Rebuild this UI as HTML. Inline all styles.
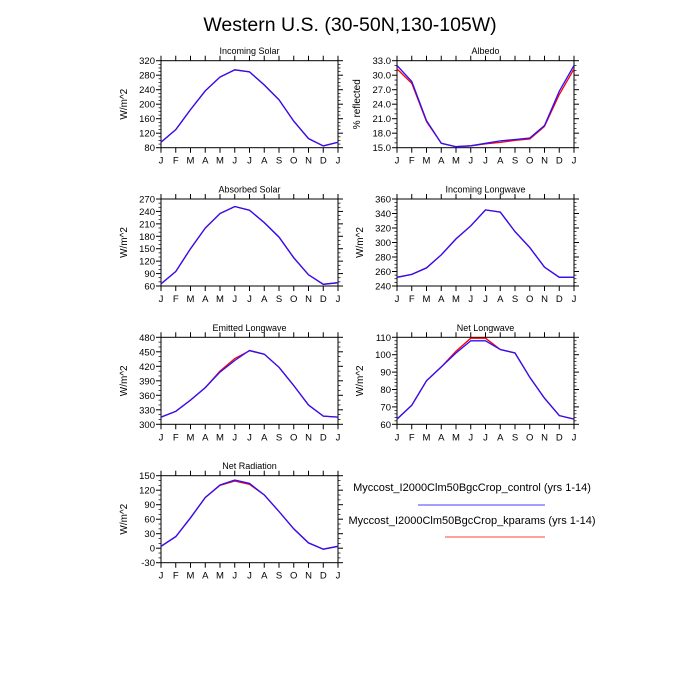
<!DOCTYPE html>
<html><head><meta charset="utf-8"><style>
html,body{margin:0;padding:0;background:#fff;}
svg{display:block;font-family:"Liberation Sans",sans-serif;}
</style></head><body>
<svg id="s" width="700" height="700" xmlns="http://www.w3.org/2000/svg">
<text x="350" y="31" font-size="19.5" text-anchor="middle">Western U.S. (30-50N,130-105W)</text>
<text x="472" y="491" font-size="11" text-anchor="middle">Myccost_I2000Clm50BgcCrop_control (yrs 1-14)</text>
<line x1="418" y1="505" x2="545" y2="505" stroke="#4040ff" stroke-width="1"/>
<text x="472" y="524" font-size="11" text-anchor="middle">Myccost_I2000Clm50BgcCrop_kparams (yrs 1-14)</text>
<line x1="445" y1="537" x2="545" y2="537" stroke="#ff4040" stroke-width="1"/>
</svg>
<script>
var S=document.getElementById('s');
var P=[
{t:"Incoming Solar",y:"W/m^2",x0:161,y0:60.7,lo:80,hi:320,st:40,mn:4,d:0,
b:[95,130,185,237,275,295,289,253,212,153,105,85,95],r:null},
{t:"Albedo",y:"% reflected",x0:397,y0:60.7,lo:15,hi:33,st:3,mn:3,d:1,
b:[32.0,28.7,20.6,15.9,15.2,15.4,15.9,16.4,16.7,17.0,19.6,26.7,32.0],
r:[31.3,28.3,20.4,15.9,15.2,15.4,15.8,16.1,16.5,16.8,19.4,26.0,31.3]},
{t:"Absorbed Solar",y:"W/m^2",x0:161,y0:199,lo:60,hi:270,st:30,mn:3,d:0,
b:[65,95,150,200,235,252,243,213,178,128,87,64,68],r:null},
{t:"Incoming Longwave",y:"W/m^2",x0:397,y0:199,lo:240,hi:360,st:20,mn:4,d:0,
b:[252,256,265,283,305,323,345,342,315,293,266,252,252],r:null},
{t:"Emitted Longwave",y:"W/m^2",x0:161,y0:337.3,lo:300,hi:480,st:30,mn:3,d:0,
b:[315,327,350,376,408,432,453,445,418,380,340,317,315],r:[315,327,350,376,410,436,452,445,418,380,340,317,315]},
{t:"Net Longwave",y:"W/m^2",x0:397,y0:337.3,lo:60,hi:110,st:10,mn:5,d:0,
b:[63,71,85,93,101,108,108,103,101,87,75,65,63],r:[63,71,85,93,102,109.5,109.5,103,101,87,75,65,63]},
{t:"Net Radiation",y:"W/m^2",x0:161,y0:475.7,lo:-30,hi:150,st:30,mn:3,d:0,
b:[4,24,63,105,131,141,134,110,76,40,11,-2,4],r:[4,24,63,105,130,139,132,110,76,40,11,-2,4]}
];
var M="JFMAMJJASONDJ";
var h="";
P.forEach(function(p){
 var W=177,H=87,x0=p.x0,y0=p.y0;
 function X(i){return x0+i*W/12;} function Y(v){return y0+H-(v-p.lo)/(p.hi-p.lo)*H;}
 h+='<text x="'+(x0+W/2)+'" y="'+(y0-6.5)+'" font-size="9" text-anchor="middle">'+p.t+'</text>';
 h+='<rect x="'+x0+'" y="'+y0+'" width="'+W+'" height="'+H+'" fill="none" stroke="#000" stroke-width="1"/>';
 for(var i=0;i<=12;i++){var x=X(i);
  h+='<line x1="'+x+'" y1="'+y0+'" x2="'+x+'" y2="'+(y0-5)+'" stroke="#000"/>';
  h+='<line x1="'+x+'" y1="'+(y0+H)+'" x2="'+x+'" y2="'+(y0+H+5)+'" stroke="#000"/>';
  h+='<text x="'+x+'" y="'+(y0+H+16)+'" font-size="9.5" text-anchor="middle">'+M[i]+'</text>';}
 var n=Math.round((p.hi-p.lo)/p.st);
 for(var k=0;k<=n;k++){var v=p.lo+k*p.st,y=Y(v);
  h+='<line x1="'+x0+'" y1="'+y+'" x2="'+(x0-5)+'" y2="'+y+'" stroke="#000"/>';
  h+='<line x1="'+(x0+W)+'" y1="'+y+'" x2="'+(x0+W+5)+'" y2="'+y+'" stroke="#000"/>';
  h+='<text x="'+(x0-6)+'" y="'+(y+3.5)+'" font-size="9.5" text-anchor="end">'+v.toFixed(p.d)+'</text>';
  if(k<n)for(var m=1;m<p.mn;m++){var ym=Y(v+m*p.st/p.mn);
   h+='<line x1="'+x0+'" y1="'+ym+'" x2="'+(x0-2.5)+'" y2="'+ym+'" stroke="#000" stroke-width="0.7"/>';
   h+='<line x1="'+(x0+W)+'" y1="'+ym+'" x2="'+(x0+W+2.5)+'" y2="'+ym+'" stroke="#000" stroke-width="0.7"/>';}}
 var lx=x0-(p.d?37:34),ly=y0+H/2;
 h+='<text x="'+lx+'" y="'+ly+'" font-size="10" text-anchor="middle" transform="rotate(-90 '+lx+' '+ly+')">'+p.y+'</text>';
 function pl(a,c){return '<polyline fill="none" stroke="'+c+'" stroke-width="1.3" points="'+a.map(function(v,i){return X(i).toFixed(1)+','+Y(v).toFixed(1);}).join(' ')+'"/>';}
 h+=pl(p.r||p.b,"#ff0000");h+=pl(p.b,"#2a10ff");
});
S.insertAdjacentHTML('beforeend',h);
</script>
</body></html>
